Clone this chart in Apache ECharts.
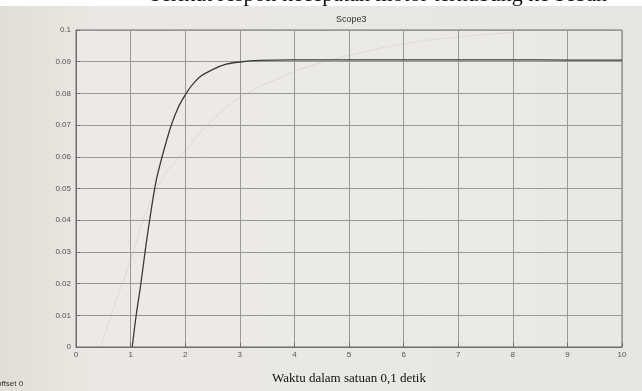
<!DOCTYPE html>
<html>
<head>
<meta charset="utf-8">
<script src="https://cdn.jsdelivr.net/npm/echarts@6/dist/echarts.min.js"></script>
<style>
html,body{margin:0;padding:0;background:#e8e6e1;}
#c{width:642px;height:391px;}
</style>
</head>
<body>
<div id="c"></div>
<script>
// Main scope trace (time in 0.1 s units, amplitude)
const timeMain = [1.03, 1.10, 1.19, 1.27, 1.36, 1.46, 1.58, 1.74, 1.87, 1.99, 2.11, 2.29, 2.51, 2.75, 3.0, 3.36, 3.98, 5, 6, 7, 8, 9, 10];
const valueMain = [0, 0.0097, 0.0202, 0.0307, 0.0413, 0.0518, 0.0602, 0.0697, 0.0755, 0.0792, 0.0823, 0.0855, 0.0876, 0.0892, 0.0899, 0.0904, 0.0906, 0.0906, 0.0906, 0.0906, 0.0906, 0.0905, 0.0905];
// Faint show-through trace from the reverse page of the scan
const timeGhost = [0.45, 0.98, 1.47, 2.02, 2.57, 3.06, 3.67, 4.28, 5.2, 6.06, 7.0, 8.0];
const valueGhost = [0, 0.0265, 0.0497, 0.0623, 0.0728, 0.0792, 0.0844, 0.0886, 0.0928, 0.0958, 0.0978, 0.0992];
const xTicks = [0,1,2,3,4,5,6,7,8,9,10];
const titleText = 'Scope3';
const xName = 'Waktu dalam satuan 0,1 detik';
const topLine = 'berikut respon kecepatan motor terhubung ke beban';
const cornerText = 'offset 0';

const zip = (a, b) => a.map((v, i) => [v, b[i]]);
const chart = echarts.init(document.getElementById('c'), null, {renderer: 'canvas'});
chart.setOption({
  backgroundColor: {
    type: 'linear', x: 0, y: 0, x2: 1, y2: 0,
    colorStops: [
      {offset: 0, color: '#e2ddd6'},
      {offset: 0.15, color: '#ece7e2'},
      {offset: 0.5, color: '#e9e8e4'},
      {offset: 1, color: '#e6e5e1'}
    ]
  },
  animation: false,
  title: {
    text: titleText, left: 331, top: 10,
    textStyle: {fontFamily: 'Liberation Sans', fontSize: 9, fontWeight: 'normal', color: '#333'}
  },
  graphic: [
    {type: 'rect', left: 0, top: 0, shape: {width: 642, height: 6}, style: {fill: '#ffffff'}},
    {type: 'text', left: 150, top: -16, style: {text: topLine, font: '22px "Liberation Serif"', fill: '#111'}},
    {type: 'text', left: -3, top: 380, style: {text: cornerText, font: '8px "Liberation Sans"', fill: '#333'}}
  ],
  grid: {left: 76, right: 20, top: 30, bottom: 44, show: true, borderColor: '#6e6e6e', borderWidth: 1, backgroundColor: 'rgba(240,239,235,0.35)'},
  xAxis: {
    type: 'value', min: 0, max: 10, interval: 1,
    name: xName, nameLocation: 'middle', nameGap: 25,
    nameTextStyle: {fontFamily: 'Liberation Serif', fontSize: 13, color: '#111'},
    axisLine: {show: true, lineStyle: {color: '#6e6e6e'}},
    axisTick: {show: true, inside: true, length: 4, lineStyle: {color: '#6e6e6e'}},
    axisLabel: {fontFamily: 'Liberation Sans', fontSize: 8, color: '#555', margin: 4,
      formatter: v => xTicks.includes(v) ? String(v) : ''},
    splitLine: {show: true, lineStyle: {color: '#999', width: 1}}
  },
  yAxis: {
    type: 'value', min: 0, max: 0.1, interval: 0.01,
    axisLine: {show: true, lineStyle: {color: '#6e6e6e'}},
    axisTick: {show: true, inside: true, length: 4, lineStyle: {color: '#6e6e6e'}},
    axisLabel: {fontFamily: 'Liberation Sans', fontSize: 8, color: '#555', margin: 5,
      formatter: v => String(Math.round(v * 100) / 100)},
    splitLine: {show: true, lineStyle: {color: '#999', width: 1}}
  },
  series: [
    {type: 'line', data: zip(timeGhost, valueGhost), smooth: 0.5, symbol: 'none',
      lineStyle: {color: 'rgba(170,160,155,0.2)', width: 1}, z: 1},
    {type: 'line', data: zip(timeMain, valueMain), smooth: 0.3, symbol: 'none',
      lineStyle: {color: '#3a3a3a', width: 1.3}, z: 3}
  ]
});
</script>
</body>
</html>
